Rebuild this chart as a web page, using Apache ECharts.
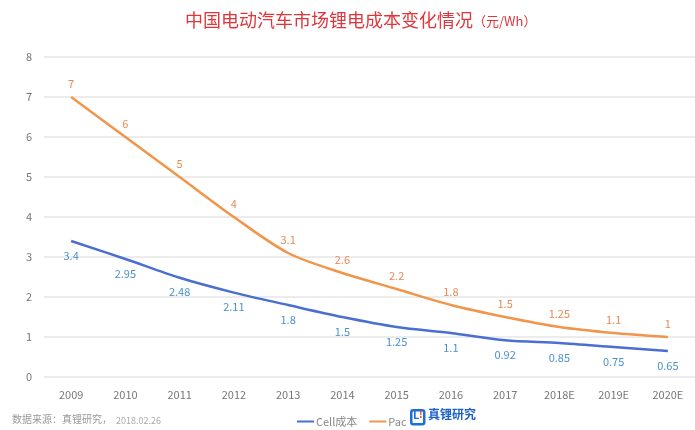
<!DOCTYPE html>
<html><head><meta charset="utf-8">
<script src="https://cdn.jsdelivr.net/npm/echarts@6/dist/echarts.min.js"></script>
<style>html,body{margin:0;padding:0;background:#fff;}#c{width:695px;height:430px;}</style>
</head><body><div id="c"></div>
<script>
var categories = ['2009','2010','2011','2012','2013','2014','2015','2016','2017','2018E','2019E','2020E'];
var cellCost = [3.4,2.95,2.48,2.11,1.8,1.5,1.25,1.1,0.92,0.85,0.75,0.65];
var packCost = [7,6,5,4,3.1,2.6,2.2,1.8,1.5,1.25,1.1,1];
var yTicks = [0,1,2,3,4,5,6,7,8];

var chart = echarts.init(document.getElementById('c'));
var font = '"Noto Sans CJK SC","Noto Sans",sans-serif';
chart.setOption({
  animation:false,
  textStyle:{fontFamily:font},
  title:{
    text:'中国电动汽车市场锂电成本变化情况{u|（元/Wh）}',
    left:180, top:6,
    textStyle:{color:'#e0353a',fontSize:18,fontWeight:'normal',fontFamily:font,
      rich:{u:{fontSize:13,color:'#e0353a',fontFamily:font,padding:[3,0,0,0]}}}
  },
  grid:{left:44,top:57,width:662,height:320},
  legend:{
    top:411,left:292,itemWidth:17,itemHeight:2,itemGap:12,
    icon:'rect',
    textStyle:{color:'#888',fontSize:11,fontFamily:font,padding:[0,0,0,-3]},
    data:['Cell成本','Pack成本']
  },
  xAxis:{
    type:'category',data:categories,boundaryGap:true,
    axisLine:{show:false},axisTick:{show:false},
    axisLabel:{color:'#777',fontSize:11,margin:12}
  },
  yAxis:{
    type:'value',min:yTicks[0],max:yTicks[yTicks.length-1],interval:1,
    axisLabel:{color:'#777',fontSize:11,margin:12},
    splitLine:{lineStyle:{color:'#e6e6e6',width:1.5}}
  },
  series:[
    {name:'Cell成本',type:'line',data:cellCost,smooth:0.3,symbol:'circle',symbolSize:0,showSymbol:true,
     lineStyle:{color:'#4a6fd1',width:2.5},itemStyle:{color:'#4a6fd1'},
     label:{show:true,position:'bottom',distance:9,color:'#4a90d0',fontSize:11}},
    {name:'Pack成本',type:'line',data:packCost,smooth:0.3,symbol:'circle',symbolSize:0,showSymbol:true,
     lineStyle:{color:'#f0954a',width:2.5},itemStyle:{color:'#f0954a'},
     label:{show:true,position:'top',distance:8,color:'#e58a55',fontSize:11}}
  ],
  graphic:[
    {type:'text',left:12,top:414,style:{text:'数据来源：真锂研究，',fill:'#999',font:'10px '+font}},
    {type:'text',left:116,top:416,style:{text:'2018.02.26',fill:'#aaa',font:'9px '+font}},
    {type:'group',z:100,children:[
      {type:'rect',left:407,top:405,z:100,shape:{width:80,height:24},style:{fill:'#fff'}},
      {type:'rect',left:410,top:409,z:101,shape:{width:13,height:14,r:2},style:{fill:'#fff',stroke:'#1c6fd6',lineWidth:2.5}},
      {type:'text',left:413,top:409,z:102,style:{text:'L',fill:'#1c6fd6',font:'bold 11px '+font}},
      {type:'text',left:419,top:409,z:102,style:{text:'!',fill:'#e03a3e',font:'bold 10px '+font}},
      {type:'text',left:428,top:408,z:102,style:{text:'真锂研究',fill:'#1c5fc6',font:'bold 12px '+font}}
    ]}
  ]
});
</script></body></html>
